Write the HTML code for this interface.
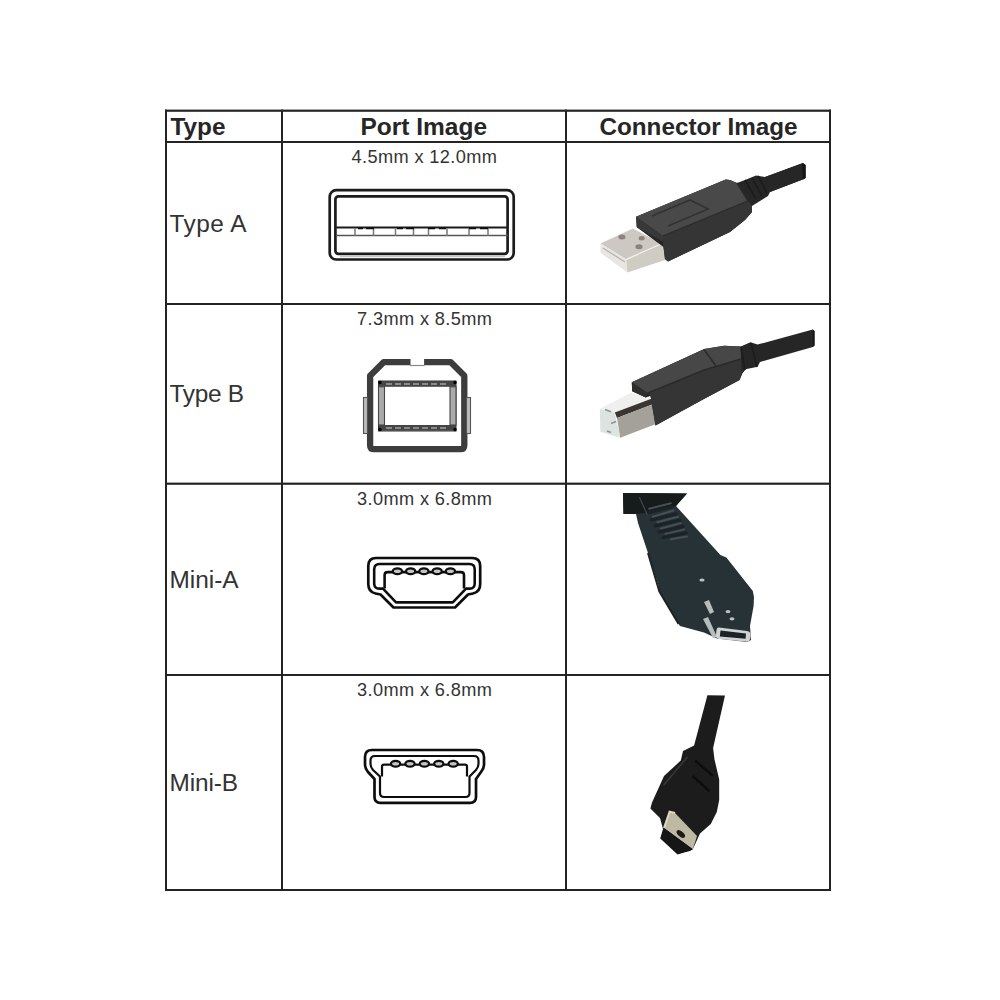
<!DOCTYPE html>
<html><head><meta charset="utf-8">
<style>
html,body{margin:0;padding:0;background:#fff;width:1000px;height:1000px;overflow:hidden}
svg{position:absolute;left:0;top:0}
text{font-family:"Liberation Sans",sans-serif}
</style></head><body>
<svg width="1000" height="1000" viewBox="0 0 1000 1000">
<defs><filter id="soft2" x="-5%" y="-5%" width="110%" height="110%"><feGaussianBlur stdDeviation="0.45"/></filter></defs>
<!-- table grid -->
<g fill="#242424">
<rect x="165" y="109.6" width="666" height="2.2"/>
<rect x="165" y="141" width="666" height="2"/>
<rect x="165" y="303" width="666" height="2"/>
<rect x="165" y="482.6" width="666" height="2.2"/>
<rect x="165" y="674" width="666" height="2"/>
<rect x="165" y="889" width="666" height="2"/>
<rect x="165" y="109.6" width="2" height="781.4"/>
<rect x="281" y="109.6" width="2" height="781.4"/>
<rect x="565" y="109.6" width="2" height="781.4"/>
<rect x="829" y="109.6" width="2" height="781.4"/>
</g>
<!-- header text -->
<g font-weight="bold" font-size="24.3" fill="#262626">
<text x="170.5" y="134.6" textLength="55" lengthAdjust="spacingAndGlyphs">Type</text>
<text x="360.5" y="134.6" textLength="126.5" lengthAdjust="spacingAndGlyphs">Port Image</text>
<text x="599.5" y="134.6" textLength="198" lengthAdjust="spacingAndGlyphs">Connector Image</text>
</g>
<g font-size="18.2" fill="#333">
<text x="351.5" y="162.6" textLength="145.5" lengthAdjust="spacing">4.5mm x 12.0mm</text>
<text x="357" y="325.2" textLength="135" lengthAdjust="spacing">7.3mm x 8.5mm</text>
<text x="357" y="504.5" textLength="135" lengthAdjust="spacing">3.0mm x 6.8mm</text>
<text x="357" y="695.5" textLength="135" lengthAdjust="spacing">3.0mm x 6.8mm</text>
</g>
<g font-size="24.4" fill="#333">
<text x="169.5" y="232.3" textLength="77" lengthAdjust="spacing">Type A</text>
<text x="169.5" y="402" textLength="74.5" lengthAdjust="spacing">Type B</text>
<text x="169.5" y="588.2" textLength="69" lengthAdjust="spacing">Mini-A</text>
<text x="169.5" y="791.2" textLength="68.5" lengthAdjust="spacing">Mini-B</text>
</g>
<!-- Type A port -->
<g fill="none" stroke="#1c1c1c" filter="url(#soft2)">
<rect x="329.7" y="190.2" width="184" height="69.3" rx="6.5" stroke-width="2.7"/>
<rect x="335.4" y="196.3" width="172.2" height="57.5" rx="3" stroke-width="2.7"/>
<line x1="340" y1="256.6" x2="505" y2="256.6" stroke="#c8c8c8" stroke-width="1.4"/>
<line x1="336" y1="227.5" x2="508" y2="227.5" stroke-width="2"/>
<line x1="336" y1="235.5" x2="508" y2="235.5" stroke-width="1.5" stroke="#555"/>
<g stroke="#777" stroke-width="1.5">
<line x1="355" y1="228" x2="355" y2="236"/><line x1="373.5" y1="228" x2="373.5" y2="236"/>
<line x1="395.5" y1="228" x2="395.5" y2="236"/><line x1="413.5" y1="228" x2="413.5" y2="236"/>
<line x1="428.5" y1="228" x2="428.5" y2="236"/><line x1="447" y1="228" x2="447" y2="236"/>
<line x1="469" y1="228" x2="469" y2="236"/><line x1="488" y1="228" x2="488" y2="236"/>
</g>
<g stroke="#111" stroke-width="1.5">
<line x1="358" y1="228.5" x2="363" y2="228.5"/><line x1="366" y1="228.5" x2="374" y2="228.5"/>
<line x1="397" y1="228.5" x2="403" y2="228.5"/><line x1="406" y1="228.5" x2="414" y2="228.5"/>
<line x1="428" y1="228.5" x2="435" y2="228.5"/><line x1="439" y1="228.5" x2="446" y2="228.5"/>
<line x1="469" y1="228.5" x2="476" y2="228.5"/><line x1="480" y1="228.5" x2="488" y2="228.5"/>
</g>
</g>
<!-- Type B port -->
<g fill="none" filter="url(#soft2)">
<path d="M410.5 362.2 L383.6 362.2 L370.1 375.7 L370.1 445.2 Q370.1 449.2 374.1 449.2 L460.3 449.2 Q464.3 449.2 464.3 445.2 L464.3 375.7 L450.8 362.2 L424.1 362.2" stroke="#3c3c3c" stroke-width="6.3" stroke-linejoin="round"/>
<line x1="410" y1="365.5" x2="424.5" y2="365.5" stroke="#888" stroke-width="1.2"/>
<rect x="363.5" y="397.5" width="4" height="36" fill="#bbb" stroke="#555" stroke-width="1.1"/>
<rect x="466.5" y="397.5" width="4" height="36" fill="#bbb" stroke="#555" stroke-width="1.1"/>
<rect x="378.5" y="381" width="77.5" height="50" fill="none" stroke="#333" stroke-width="1"/>
<rect x="379" y="381" width="77" height="5.8" fill="#444"/>
<rect x="379" y="425" width="77" height="5.8" fill="#444"/>
<line x1="386" y1="384" x2="449" y2="384" stroke="#8a8a8a" stroke-width="1.8" stroke-dasharray="6 3"/>
<line x1="386" y1="428" x2="449" y2="428" stroke="#8a8a8a" stroke-width="1.8" stroke-dasharray="6 3"/>
<rect x="378.5" y="386.8" width="6" height="38.2" fill="#aaa" stroke="#444" stroke-width="1.1"/>
<rect x="450" y="386.8" width="6" height="38.2" fill="#aaa" stroke="#444" stroke-width="1.1"/>
<g fill="#000"><circle cx="380" cy="382.5" r="1.7"/><circle cx="455" cy="382.5" r="1.7"/><circle cx="380" cy="429.5" r="1.7"/><circle cx="455" cy="429.5" r="1.7"/></g>
</g>
<!-- Mini-A port -->
<g fill="none" stroke="#111" stroke-width="2.7" stroke-linejoin="round" filter="url(#soft2)">
<path d="M376,558 L472.2,558 Q480.2,558 480.2,566 L480.2,584 Q480.2,592 473,593.5 L468,594.5 L455,607.5 L393.5,607.5 L380.5,594.5 L375.5,593.5 Q368.3,592 368.3,584 L368.3,566 Q368.3,558 376,558 Z"/>
<path d="M379.5,564 L469.5,564 Q474.7,564 474.7,569.2 L474.7,583.4 Q474.7,588.6 469.5,588.6 L466,588.6 L452.8,602.4 L396,602.4 L383,588.6 L379.4,588.6 Q374.2,588.6 374.2,583.4 L374.2,569.2 Q374.2,564 379.5,564 Z" stroke-width="2.6"/>
<path d="M384.6,588.6 L384.6,575.2 Q384.6,572.1 387.7,572.1 L460.9,572.1 Q464,572.1 464,575.2 L464,588.6" stroke-width="2.6"/>
<g fill="#c4c4c4" stroke-width="2.2"><ellipse cx="397.4" cy="571.3" rx="4.6" ry="2.9"/><ellipse cx="410.65" cy="571.3" rx="4.6" ry="2.9"/><ellipse cx="423.9" cy="571.3" rx="4.6" ry="2.9"/><ellipse cx="437.15" cy="571.3" rx="4.6" ry="2.9"/><ellipse cx="450.4" cy="571.3" rx="4.6" ry="2.9"/></g>
</g>
<!-- Mini-B port -->
<g fill="none" stroke="#111" stroke-width="2.7" stroke-linejoin="round" filter="url(#soft2)">
<path d="M372 750 L477 750 Q484 750 484 757 L484 765 Q484 768 481 772 L476 779 L476 797 Q476 802.8 470 802.8 L380.5 802.8 Q374.5 802.8 374.5 797 L374.5 779 L368 772 Q365 768 365 765 L365 757 Q365 750 372 750 Z"/>
<path d="M375 756 L474 756 Q478.5 756 478.5 760.5 L478.5 764 Q478.5 767 476 770 L469.5 776.5 L469.5 793 Q469.5 797 465.5 797 L384 797 Q380 797 380 793 L380 776.5 L373 770 Q370.5 767 370.5 764 L370.5 760.5 Q370.5 756 375 756 Z" stroke-width="2.2"/>
<path d="M382 776.5 L382 766.5 Q382 764.6 384 764.6 L465 764.6 Q467 764.6 467 766.5 L467 776.5" stroke-width="2.2"/>
<g fill="#c4c4c4" stroke-width="2.2"><ellipse cx="395.6" cy="763.8" rx="4.6" ry="2.9"/><ellipse cx="410" cy="763.8" rx="4.6" ry="2.9"/><ellipse cx="424.4" cy="763.8" rx="4.6" ry="2.9"/><ellipse cx="438.8" cy="763.8" rx="4.6" ry="2.9"/><ellipse cx="453.2" cy="763.8" rx="4.6" ry="2.9"/></g>
</g>
<!-- CABLES -->
<defs>
<filter id="soft" x="-5%" y="-5%" width="110%" height="110%"><feGaussianBlur stdDeviation="0.6"/></filter>
<linearGradient id="cabA" x1="0" y1="0" x2="0" y2="1"><stop offset="0" stop-color="#3a3a3a"/><stop offset="1" stop-color="#1e1e1e"/></linearGradient>
</defs>
<g filter="url(#soft)">
<!-- Type A cable -->
<path d="M600.5,243.5 L632.9,228.4 L666,246 L626.3,259.4 Z" fill="#cdc8c1"/>
<path d="M600.5,243.5 L626.3,259.4 L627.4,272.6 L600.5,252.8 Z" fill="#e8e6e2"/>
<path d="M626.3,259.4 L666,245 L668,259 L627.4,272.6 Z" fill="#cfccc4"/>
<path d="M626.3,259.4 L661.5,243.8" stroke="#f4f2ee" stroke-width="1.2"/>
<path d="M603,248 L625,262" stroke="#b8b3ab" stroke-width="1.3"/>
<g fill="#8a847b"><ellipse cx="621.9" cy="237" rx="3.6" ry="2.5"/><ellipse cx="641.7" cy="238.2" rx="3" ry="2.2"/><ellipse cx="639" cy="246.8" rx="3.6" ry="2.5"/></g>
<path d="M636,216.8 L725.7,179.5 L730,180 L737,183 L745,180 L756,175.5 L765,177 L803,163 L805.5,165 L805.5,178 L804,179 L770,192 L768,196 L760,201 L752,206 L752,212 L745,220 L730,232 L668,261.5 L665,259 L663.5,247 L636.8,227.3 Z" fill="#282828"/>
<path d="M636,216.8 L725.7,179.5 L730,180 L737,183 L748,201 L663,236 Z" fill="#4a4a4a"/>
<path d="M636,216.8 L663,236 L664,242 L636.8,227.3 Z" fill="#383838"/>
<path d="M663,236 L748,201 L752,206 L752,212 L745,220 L730,232 L668,261.5 L665,259 L663.5,247 Z" fill="#363636"/>
<path d="M652,216 L690,200 L708,209 L668,226" fill="none" stroke="#333" stroke-width="1.8"/>
<path d="M663,236 L748,201" fill="none" stroke="#2e2e2e" stroke-width="1.4"/>
<path d="M737,183 L748,201" fill="none" stroke="#2a2a2a" stroke-width="1.5"/>
<path d="M745,180 L756,199 M752,178 L762,196 M758,176 L767,193" fill="none" stroke="#1e1e1e" stroke-width="1.8"/>
<path d="M765,177 L803,163 L805.5,165 L805.5,178 L804,179 L770,192" fill="#262626"/>
<path d="M802,163.5 L805.5,165 L805.5,178 L803,179 Z" fill="#151515"/>
<!-- Type B cable -->
<path d="M599.9,408.7 L631,392.8 L652,399 L614.8,412.6 Z" fill="#efefed"/>
<path d="M614.8,412.6 L652,398.5 L653.5,404 L617,418 Z" fill="#3b3532"/>
<path d="M617,418 L653.5,404 L656,424 L620.2,437.8 Z" fill="#a4a09a"/>
<path d="M599.8,409 L614.8,412.6 L620.2,437.8 L600.4,431.8 Z" fill="#dde3e0"/>
<path d="M605,409.5 L611,411.8 M611,423.4 L616,421.6 M607,431 L611,432.6" stroke="#8e9692" stroke-width="1.6"/>
<path d="M631.8,382.3 L704.2,349 L724,345.8 L740.8,346.4 L750.4,342.2 L757.6,344.6 L812.8,329.6 L814.5,331 L814.5,345.5 L812.8,347 L760,362 L757.6,366.8 L745.6,369.2 L742,374 L739.6,380 L702,400 L655.5,425.5 L650.5,396 L645.7,397.6 L632.2,391.3 Z" fill="#272727"/>
<path d="M631.8,382.3 L704.2,349 L724,345.8 L740.8,346.4 L741,359 L705,369.7 L647.5,393.1 Z" fill="#464646"/>
<path d="M631.8,382.3 L647.5,393.1 L645.7,397.6 L632.2,391.3 Z" fill="#2e2e2e"/>
<path d="M647.5,393.1 L705,369.7 L741,359 L742,374 L739.6,380 L702,400 L655.5,425.5 L650.5,396 Z" fill="#343434"/>
<path d="M647.5,393.1 L705,369.7 L741,359" fill="none" stroke="#2a2a2a" stroke-width="1.5"/>
<path d="M704,349.5 L716,366" stroke="#2c2c2c" stroke-width="1.5"/>
<path d="M741,347 L745,370 M751,343 L757,367" stroke="#1e1e1e" stroke-width="1.8"/>
<path d="M812.8,329.6 L814.5,331 L814.5,345.5 L812.8,347 Z" fill="#151515"/>
<!-- Mini-A cable -->
<path d="M623,493 L687,493.5 L676,506 L720.4,555 L726.4,557.4 L752.8,591 L754,597 L753.6,606 L750,626 L751,640 L747,642 L717,638.5 L704,632.4 L680,626 L678.6,624 L659.4,591.6 L658.2,584.4 L648,553 L638,523 L636,514 L623.5,514 Z" fill="#283134"/>
<path d="M623,493 L687,493.5 L676,506 L652,512 L636,514 L623.5,514 Z" fill="#141a1c"/>
<path d="M647,513 L672,507 M651,520 L676,514 M655,526 L680,520 M659,532 L683,526.5 M663,537.5 L686,533" fill="none" stroke="#1b2326" stroke-width="3" stroke-linecap="round"/>
<path d="M649.2,508.7 L670.8,503.3 M652.8,516.8 L673.5,510.5 M657.3,522.2 L678,516.8 M660.9,528.5 L680.7,523.1 M665.4,533.9 L684.3,529.4 M670.8,539.3 L687,536.6" fill="none" stroke="#435155" stroke-width="2" stroke-linecap="round"/>
<path d="M639.3,497 L647.4,515" stroke="#3a4549" stroke-width="1.4"/>
<path d="M648,553 L659.4,591.6 L678.6,624" fill="none" stroke="#1c2326" stroke-width="2"/>
<path d="M704,602 L709,600 L714,612 L710,614 Z M703,619 L708,617 L717,637 L713,638 Z" fill="#b5bdbd"/>
<path d="M719,627.5 L747,631 Q751,631.5 750.6,635.5 L750.2,638.5 Q749.8,642 745.8,641.6 L719,639 Q715.5,638.6 716,635 L716.4,630.5 Q716.8,627.2 719,627.5 Z" fill="#cfd3d3"/>
<path d="M720.5,630.6 L746,633.6 L745.6,638.8 L719.8,636.4 Z" fill="#1f2426"/>
<g fill="#b9c1c1"><ellipse cx="728" cy="611.6" rx="2.5" ry="1.6"/><ellipse cx="732" cy="618.8" rx="2.5" ry="1.6"/><ellipse cx="702" cy="580" rx="2.6" ry="1.6"/></g>
<!-- Mini-B cable -->
<path d="M707.4,695.3 L725,695.5 L713.1,748 L714.4,759 L719.2,779.6 L719.2,800 L716.8,812 L710.8,824 L700,833.6 L692.8,849.2 L677.6,854.5 L660.2,838.5 L663,829 L660,818 L650.4,808.4 L652,802.4 L664,776 L680.8,760.4 L683,751 L694.1,745.5 Z" fill="#1f1f1f"/>
<path d="M695,760.6 L713,776 M692.6,776 L709.6,791.2" fill="none" stroke="#0c0c0c" stroke-width="2.6"/>
<path d="M663.7,785 L687.5,757" fill="none" stroke="#3a3a3a" stroke-width="1.2"/>
<path d="M669.6,811.6 L675,813 L697,836 L692.8,849.2 L664,828 Z" fill="#bdb9a3"/>
<path d="M664,828 L669.6,811.6 L675,813" fill="none" stroke="#dcd8c4" stroke-width="2"/>
<ellipse cx="680.8" cy="834" rx="5" ry="2.6" fill="#1e1b16" transform="rotate(40 680.8 834)"/>
<path d="M664,828 L692.8,849.2 L690,851 L677.6,854 L660.8,838 Z" fill="#121212"/>
</g>
</svg>
</body></html>
